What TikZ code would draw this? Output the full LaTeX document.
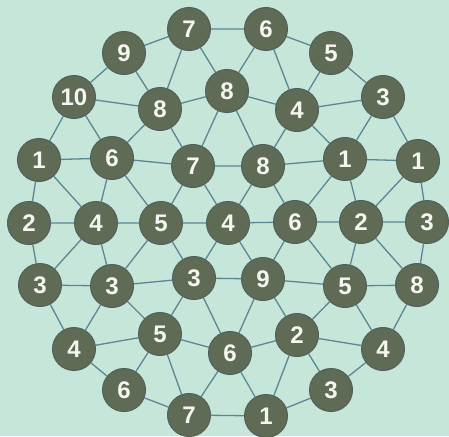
\documentclass[tikz,border=0pt]{standalone}
\usepackage{fontspec}
\setmainfont{Liberation Sans}
\usepackage{xcolor}
\definecolor{cBack}{HTML}{C6E6DA}
\definecolor{cNode}{HTML}{5F6B55}
\definecolor{cRing}{HTML}{50605A}
\definecolor{cEdge}{HTML}{5C8694}
\definecolor{cText}{HTML}{F6F6F0}
\usepackage{tikz}
\usetikzlibrary{backgrounds}
\tikzset{
  node-num/.style={circle,draw=cRing,line width=1pt,fill=cNode,
    minimum size=43pt,inner sep=0pt,text=cText,
    font=\fontsize{24}{24}\selectfont\bfseries},
  edge/.style={draw=cEdge,line width=1.3pt},
}

\begin{document}
\begin{tikzpicture}[x=1pt,y=-1pt]
  \useasboundingbox (0,0) rectangle (449,436);

  % Reihe 1 und 2
  \node[node-num] (r1-1) at (189,29)  {7};
  \node[node-num] (r1-2) at (266,29)  {6};
  \node[node-num] (r2-1) at (124,53)  {9};
  \node[node-num] (r2-2) at (331,53)  {5};
  % Reihe 3
  \node[node-num] (r3-1) at (74,97)   {10};
  \node[node-num] (r3-2) at (160,109) {8};
  \node[node-num] (r3-3) at (227,91)  {8};
  \node[node-num] (r3-4) at (297,110) {4};
  \node[node-num] (r3-5) at (383,97)  {3};
  % Reihe 4
  \node[node-num] (r4-1) at (39,160)  {1};
  \node[node-num] (r4-2) at (112,158) {6};
  \node[node-num] (r4-3) at (193,166) {7};
  \node[node-num] (r4-4) at (263,166) {8};
  \node[node-num] (r4-5) at (345,159) {1};
  \node[node-num] (r4-6) at (418,161) {1};
  % Reihe 5 (Mitte)
  \node[node-num] (r5-1) at (29,223)  {2};
  \node[node-num] (r5-2) at (96,223)  {4};
  \node[node-num] (r5-3) at (161,223) {5};
  \node[node-num] (r5-4) at (228,223) {4};
  \node[node-num] (r5-5) at (295,222) {6};
  \node[node-num] (r5-6) at (361,222) {2};
  \node[node-num] (r5-7) at (427,222) {3};
  % Reihe 6
  \node[node-num] (r6-1) at (40,285)  {3};
  \node[node-num] (r6-2) at (112,286) {3};
  \node[node-num] (r6-3) at (194,278) {3};
  \node[node-num] (r6-4) at (263,279) {9};
  \node[node-num] (r6-5) at (345,286) {5};
  \node[node-num] (r6-6) at (417,285) {8};
  % Reihe 7
  \node[node-num] (r7-1) at (74,349)  {4};
  \node[node-num] (r7-2) at (160,334) {5};
  \node[node-num] (r7-3) at (230,353) {6};
  \node[node-num] (r7-4) at (297,335) {2};
  \node[node-num] (r7-5) at (383,349) {4};
  % Reihe 8 und 9
  \node[node-num] (r8-1) at (124,390) {6};
  \node[node-num] (r8-2) at (331,390) {3};
  \node[node-num] (r9-1) at (189,415) {7};
  \node[node-num] (r9-2) at (266,416) {1};

  \begin{scope}[on background layer]
    \fill[cBack] (0,0) rectangle (449,436);
    % oben
    \draw[edge] (r1-1) -- (r1-2) (r2-1) -- (r1-1) (r1-2) -- (r2-2);
    \draw[edge] (r2-1) -- (r3-1) (r2-1) -- (r3-2) (r1-1) -- (r3-2) (r1-1) -- (r3-3);
    \draw[edge] (r1-2) -- (r3-3) (r1-2) -- (r3-4) (r2-2) -- (r3-4) (r2-2) -- (r3-5);
    \draw[edge] (r3-1) -- (r3-2) -- (r3-3) -- (r3-4) -- (r3-5);
    % Reihe 3 -> 4
    \draw[edge] (r3-1) -- (r4-1) (r3-1) -- (r4-2) (r3-2) -- (r4-2) (r3-2) -- (r4-3);
    \draw[edge] (r3-3) -- (r4-3) (r3-3) -- (r4-4) (r3-4) -- (r4-4) (r3-4) -- (r4-5);
    \draw[edge] (r3-5) -- (r4-5) (r3-5) -- (r4-6);
    \draw[edge] (r4-1) -- (r4-2) -- (r4-3) -- (r4-4) -- (r4-5) -- (r4-6);
    % Reihe 4 -> 5
    \draw[edge] (r4-1) -- (r5-1) (r4-1) -- (r5-2) (r4-2) -- (r5-2) (r4-2) -- (r5-3);
    \draw[edge] (r4-3) -- (r5-3) (r4-3) -- (r5-4) (r4-4) -- (r5-4) (r4-4) -- (r5-5);
    \draw[edge] (r4-5) -- (r5-5) (r4-5) -- (r5-6) (r4-6) -- (r5-6) (r4-6) -- (r5-7);
    \draw[edge] (r5-1) -- (r5-2) -- (r5-3) -- (r5-4) -- (r5-5) -- (r5-6) -- (r5-7);
    % Reihe 5 -> 6
    \draw[edge] (r5-1) -- (r6-1) (r5-2) -- (r6-1) (r5-2) -- (r6-2) (r5-3) -- (r6-2);
    \draw[edge] (r5-3) -- (r6-3) (r5-4) -- (r6-3) (r5-4) -- (r6-4) (r5-5) -- (r6-4);
    \draw[edge] (r5-5) -- (r6-5) (r5-6) -- (r6-5) (r5-6) -- (r6-6) (r5-7) -- (r6-6);
    \draw[edge] (r6-1) -- (r6-2) -- (r6-3) -- (r6-4) -- (r6-5) -- (r6-6);
    % Reihe 6 -> 7
    \draw[edge] (r6-1) -- (r7-1) (r6-2) -- (r7-1) (r6-2) -- (r7-2) (r6-3) -- (r7-2);
    \draw[edge] (r6-3) -- (r7-3) (r6-4) -- (r7-3) (r6-4) -- (r7-4) (r6-5) -- (r7-4);
    \draw[edge] (r6-5) -- (r7-5) (r6-6) -- (r7-5);
    \draw[edge] (r7-1) -- (r7-2) -- (r7-3) -- (r7-4) -- (r7-5);
    % unten
    \draw[edge] (r7-1) -- (r8-1) (r7-2) -- (r8-1) (r7-2) -- (r9-1) (r7-3) -- (r9-1);
    \draw[edge] (r7-3) -- (r9-2) (r7-4) -- (r9-2) (r7-4) -- (r8-2) (r7-5) -- (r8-2);
    \draw[edge] (r8-1) -- (r9-1) -- (r9-2) -- (r8-2);
  \end{scope}
\end{tikzpicture}
\end{document}
